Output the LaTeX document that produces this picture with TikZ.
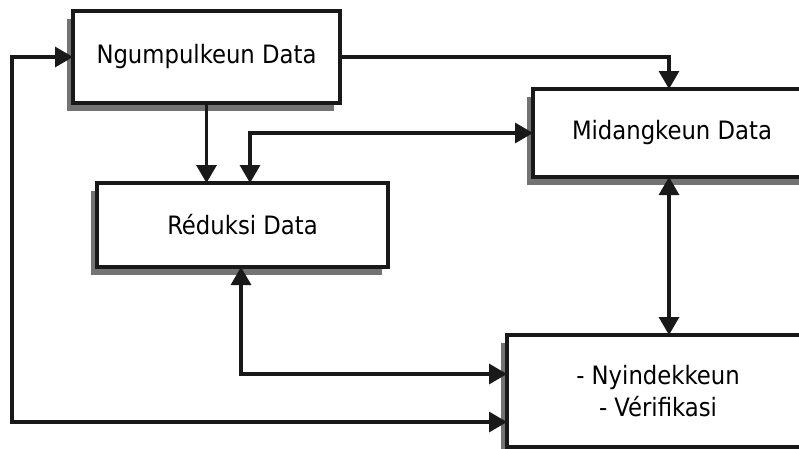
\documentclass[tikz,border=0pt]{standalone}
\usepackage{fontspec}
\setmainfont{DejaVu Sans Condensed}
\usetikzlibrary{arrows.meta,shadows}
\begin{document}
\begin{tikzpicture}[x=1pt,y=-1pt,
  box/.style={draw=black!90, line width=4pt, fill=white, inner sep=0pt, outer sep=0pt,
    font=\fontsize{25.3}{32}\selectfont, align=center,
    drop shadow={shadow xshift=-6pt, shadow yshift=-8pt, fill=black!55, opacity=1}},
  conn/.style={draw=black!90, line width=3.2pt, line join=miter},
  tipa/.tip={Triangle[length=18pt,width=20pt]}
]
\clip (0,0) rectangle (799,448);
\fill[white] (0,0) rectangle (799,448);
\node[box, minimum width=267pt, minimum height=92pt] (N) at (206.5,57) {Ngumpulkeun Data};
\node[box, minimum width=278pt, minimum height=88pt] (M) at (672,133) {Midangkeun Data};
\node[box, minimum width=291pt, minimum height=84pt] (R) at (242.5,225) {Réduksi Data};
\node[box, minimum width=302pt, minimum height=112pt] (V) at (658,391) {- Nyindekkeun\\- Vérifikasi};
\coordinate (L) at (12,57);
\draw[conn, -tipa] (N.east) -| ([xshift=-3pt]M.north);
\draw[conn, -tipa] (N.south) -- (R.north -| N.south);
\draw[conn, tipa-tipa] (M.west) -| ([xshift=7.5pt]R.north);
\draw[conn, tipa-tipa] ([xshift=-3pt]M.south) -- ([xshift=-3pt]M.south |- V.north);
\draw[conn, tipa-tipa] ([xshift=-1.5pt]R.south) |- ([yshift=17pt]V.west);
\draw[conn, tipa-tipa] ([yshift=-31pt]V.west) -| (L) -- (N.west);
\end{tikzpicture}
\end{document}
